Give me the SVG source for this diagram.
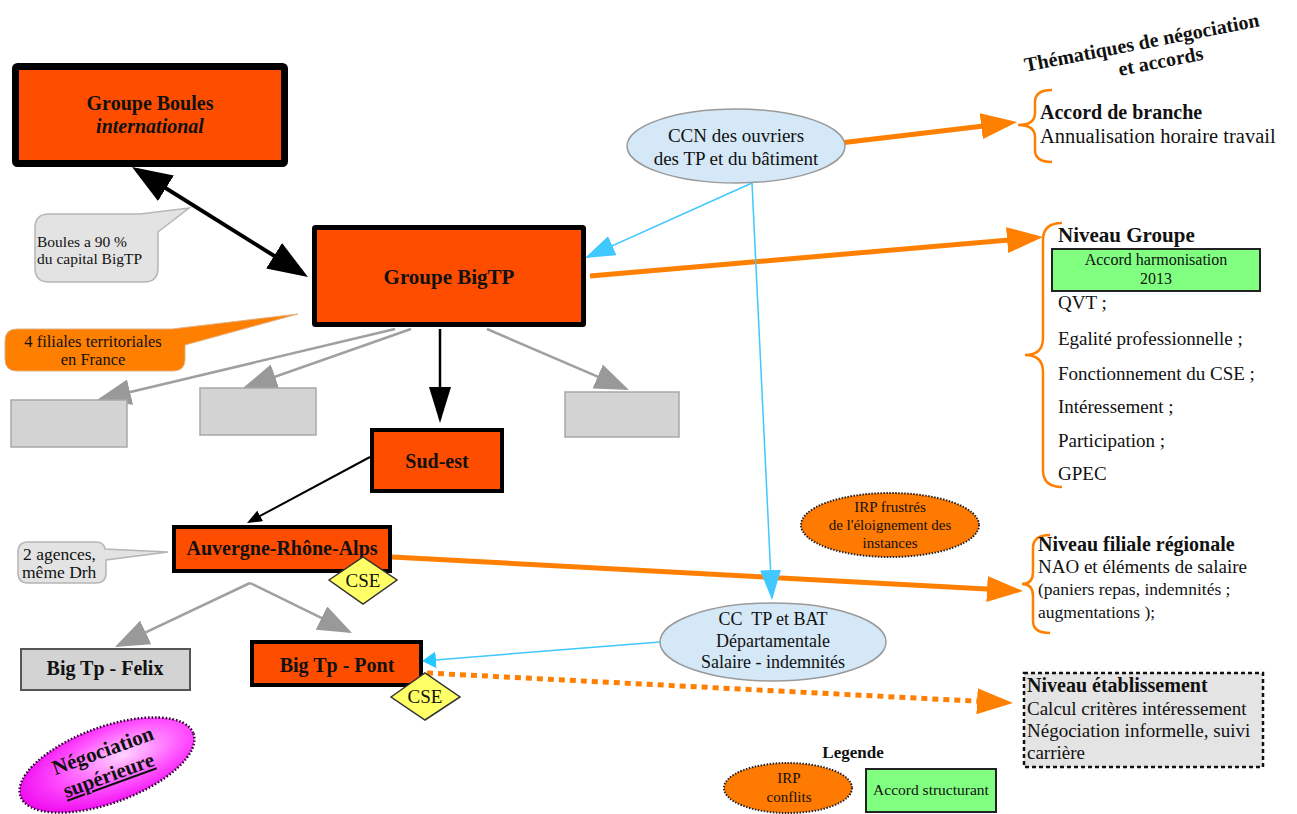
<svg xmlns="http://www.w3.org/2000/svg" width="1297" height="814" viewBox="0 0 1297 814">
<style>
text{font-family:"Liberation Serif","Times New Roman",serif;fill:#111}
.b{font-weight:bold}
.m{text-anchor:middle}
.box{fill:#FF4D00;stroke:#000}
.gray{fill:#D3D3D3;stroke:#A8A8A8;stroke-width:1.5}
.cse{fill:#FFFF66;stroke:#333;stroke-width:1.5}
.irp{fill:#FF7A00;stroke:#222;stroke-width:2;stroke-dasharray:1.5 1.5}
.conv{fill:#D4E8F7;stroke:#9A9A9A;stroke-width:1.5}
.green{fill:#80FF80;stroke:#222;stroke-width:2}
.brace{fill:none;stroke:#FF7F00;stroke-width:2.5}
.oline{fill:none;stroke:#FF7F00;stroke-width:5}
.cline{fill:none;stroke:#40C8FF;stroke-width:1.5}
.gline{fill:none;stroke:#A0A0A0;stroke-width:2.5}
.kline{fill:none;stroke:#000}
</style>
<defs>
<marker id="mO" viewBox="0 0 36 26" refX="28" refY="13" markerWidth="36" markerHeight="26" markerUnits="userSpaceOnUse" orient="auto"><path d="M0,0 L36,13 L0,26 z" fill="#FF7F00"/></marker>
<marker id="mK" viewBox="0 0 40 30" refX="34" refY="15" markerWidth="40" markerHeight="30" markerUnits="userSpaceOnUse" orient="auto-start-reverse"><path d="M0,0 L40,15 L0,30 z" fill="#000"/></marker>
<marker id="mKd" viewBox="0 0 36 22" refX="32" refY="11" markerWidth="36" markerHeight="22" markerUnits="userSpaceOnUse" orient="auto"><path d="M0,0 L36,11 L0,22 z" fill="#000"/></marker>
<marker id="mKs" viewBox="0 0 15 12" refX="12" refY="6" markerWidth="15" markerHeight="12" markerUnits="userSpaceOnUse" orient="auto"><path d="M0,0 L15,6 L0,12 z" fill="#000"/></marker>
<marker id="mG" viewBox="0 0 34 26" refX="31" refY="13" markerWidth="34" markerHeight="26" markerUnits="userSpaceOnUse" orient="auto"><path d="M0,0 L34,13 L0,26 z" fill="#999"/></marker>
<marker id="mC" viewBox="0 0 30 21" refX="28" refY="10.5" markerWidth="30" markerHeight="21" markerUnits="userSpaceOnUse" orient="auto"><path d="M0,0 L30,10.5 L0,21 z" fill="#40C8FF"/></marker>
<marker id="mCs" viewBox="0 0 14 17" refX="13" refY="8.5" markerWidth="14" markerHeight="17" markerUnits="userSpaceOnUse" orient="auto"><path d="M0,0 L14,8.5 L0,17 z" fill="#22C8FF"/></marker>
<radialGradient id="gNeg" cx="0.6" cy="0.45" r="0.65">
<stop offset="0" stop-color="#FFD4FF"/>
<stop offset="0.55" stop-color="#FF50FF"/>
<stop offset="1" stop-color="#EE00EE"/>
</radialGradient>
</defs>
<rect width="1297" height="814" fill="#fff"/>

<g id="connectors">
<line class="kline" stroke-width="4" x1="137.1" y1="170.2" x2="302.9" y2="273.8" marker-start="url(#mK)" marker-end="url(#mK)"/>
<line class="gline" x1="395" y1="329" x2="99.9" y2="399.3" marker-end="url(#mG)"/>
<line class="gline" x1="411" y1="329" x2="245.8" y2="387" marker-end="url(#mG)"/>
<line class="gline" x1="487" y1="329" x2="626.2" y2="388.8" marker-end="url(#mG)"/>
<line class="kline" stroke-width="2.5" x1="440" y1="329" x2="440" y2="419" marker-end="url(#mKd)"/>
<line class="kline" stroke-width="2" x1="370" y1="457" x2="249.6" y2="521.6" marker-end="url(#mKs)"/>
<line class="gline" x1="250" y1="583" x2="117.7" y2="645.7" marker-end="url(#mG)"/>
<line class="gline" x1="250" y1="583" x2="349.3" y2="631.7" marker-end="url(#mG)"/>
<line class="oline" x1="840" y1="143" x2="1009.1" y2="122.9" marker-end="url(#mO)"/>
<line class="oline" x1="590" y1="276" x2="1035" y2="237.7" marker-end="url(#mO)"/>
<line class="cline" x1="752" y1="183" x2="586.8" y2="257.2" marker-end="url(#mC)"/>
<line class="oline" x1="392" y1="557" x2="1015" y2="590.6" marker-end="url(#mO)"/>
<line class="cline" x1="752" y1="183" x2="771.9" y2="598" marker-end="url(#mC)"/>
<line class="cline" x1="660" y1="642" x2="423" y2="660.9" marker-end="url(#mCs)"/>
<line class="oline" stroke-width="3" stroke-dasharray="6 5" x1="427" y1="673" x2="1005" y2="702.6" marker-end="url(#mO)"/>
</g>

<g id="groupe-boules">
<rect class="box" x="15.5" y="66.5" width="269" height="97" stroke-width="7" rx="2"/>
<text class="b m" x="150" y="110" font-size="20">Groupe Boules</text>
<text class="b m" x="150" y="133" font-size="20" font-style="italic">international</text>
</g>

<g id="callout-boules">
<path d="M49,214 H140 L189,208 L158,232 V268 Q158,282 144,282 H49 Q35,282 35,268 V228 Q35,214 49,214 Z" fill="#E3E3E3" stroke="#B5B5B5" stroke-width="1.5"/>
<text x="37" y="247" font-size="15.5">Boules a 90 %</text>
<text x="37" y="264" font-size="15.5">du capital BigTP</text>
</g>

<g id="groupe-bigtp">
<rect class="box" x="314.5" y="227.5" width="269" height="97" stroke-width="5" rx="1"/>
<text class="b m" x="449" y="284" font-size="21">Groupe BigTP</text>
</g>

<g id="callout-filiales">
<path d="M17,329 H172 L298,314 L185,345 V359 Q185,371 173,371 H17 Q5,371 5,359 V341 Q5,329 17,329 Z" fill="#FF7F00" stroke="#E0B080" stroke-width="1"/>
<text class="m" x="93" y="347" font-size="16.5">4 filiales territoriales</text>
<text class="m" x="93" y="365" font-size="16.5">en France</text>
</g>

<g id="filiale-1"><rect class="gray" x="11" y="400" width="116" height="47"/></g>
<g id="filiale-2"><rect class="gray" x="200" y="388" width="116" height="47"/></g>
<g id="filiale-3"><rect class="gray" x="565" y="392" width="114" height="45"/></g>

<g id="sud-est">
<rect class="box" x="372" y="430" width="130" height="61" stroke-width="4"/>
<text class="b m" x="437" y="468" font-size="20">Sud-est</text>
</g>

<g id="ara">
<rect class="box" x="174" y="527" width="216" height="44" stroke-width="4"/>
<text class="b m" x="282" y="555" font-size="20">Auvergne-Rhône-Alps</text>
</g>

<g id="cse-ara">
<polygon class="cse" points="329,580 363,557 397,580 363,604"/>
<text class="m" x="363" y="587" font-size="19">CSE</text>
</g>

<g id="callout-agences">
<path d="M28,542 H96 Q104,542 105,549 L168,552 L106,560 V573 Q106,583 96,583 H28 Q18,583 18,573 V552 Q18,542 28,542 Z" fill="#E3E3E3" stroke="#B5B5B5" stroke-width="1.5"/>
<text x="23" y="560" font-size="17.5">2 agences,</text>
<text x="22" y="578" font-size="17.5">même Drh</text>
</g>

<g id="big-tp-felix">
<rect x="21" y="649" width="169" height="41" fill="#D3D3D3" stroke="#555" stroke-width="2"/>
<text class="b m" x="105" y="675" font-size="20">Big Tp - Felix</text>
</g>

<g id="big-tp-pont">
<rect class="box" x="252" y="642" width="169" height="43" stroke-width="4"/>
<text class="b m" x="337" y="672" font-size="20">Big Tp - Pont</text>
</g>

<g id="cse-pont">
<polygon class="cse" points="391,697 425,673 460,697 425,720"/>
<text class="m" x="425" y="703" font-size="19">CSE</text>
</g>

<g id="negociation-superieure" transform="rotate(-20 107 765)">
<ellipse cx="107" cy="765" rx="92" ry="38" fill="url(#gNeg)" stroke="#2A0030" stroke-width="2.5" stroke-dasharray="1.5 2"/>
<text class="b m" x="108" y="757" font-size="21">Négociation</text>
<text class="b m" x="105" y="782" font-size="21" text-decoration="underline">supérieure</text>
</g>

<g id="ccn">
<ellipse class="conv" cx="736" cy="146" rx="109" ry="37"/>
<text class="m" x="736" y="142" font-size="19">CCN des ouvriers</text>
<text class="m" x="736" y="165" font-size="19">des TP et du bâtiment</text>
</g>

<g id="cc-tp-bat">
<ellipse class="conv" cx="773" cy="642" rx="113" ry="39"/>
<text class="m" x="773" y="625" font-size="18" style="white-space:pre">CC  TP et BAT</text>
<text class="m" x="773" y="647" font-size="18">Départamentale</text>
<text class="m" x="773" y="668" font-size="18">Salaire - indemnités</text>
</g>

<g id="irp-frustres">
<ellipse class="irp" cx="890" cy="525" rx="89" ry="32"/>
<text class="m" x="890" y="512" font-size="15">IRP frustrés</text>
<text class="m" x="890" y="530" font-size="15">de l'éloignement des</text>
<text class="m" x="890" y="548" font-size="15">instances</text>
</g>

<g id="titre">
<g transform="rotate(-11 1143 49)">
<text class="b m" x="1143" y="49" font-size="20">Thématiques de négociation</text>
<text class="b m" x="1158" y="71" font-size="20">et accords</text>
</g>
</g>

<g id="accord-branche">
<path class="brace" d="M1052,90 Q1035,90 1035,102 V113 Q1035,125 1018,125 Q1035,125 1035,137 V150 Q1035,162 1052,162"/>
<text class="b" x="1040" y="119" font-size="20">Accord de branche</text>
<text x="1040" y="143" font-size="20.5">Annualisation horaire travail</text>
</g>

<g id="niveau-groupe">
<path class="brace" d="M1062,223 Q1043,223 1043,240 V338 Q1043,355 1025,355 Q1043,355 1043,372 V470 Q1043,487 1062,487"/>
<text class="b" x="1058" y="242" font-size="21">Niveau Groupe</text>
<rect class="green" x="1052" y="249" width="208" height="42"/>
<text class="m" x="1156" y="265" font-size="16">Accord harmonisation</text>
<text class="m" x="1156" y="284" font-size="16">2013</text>
<text x="1058" y="309" font-size="19">QVT ;</text>
<text x="1058" y="345" font-size="19">Egalité professionnelle ;</text>
<text x="1058" y="380" font-size="19">Fonctionnement du CSE ;</text>
<text x="1058" y="413" font-size="19">Intéressement ;</text>
<text x="1058" y="447" font-size="19">Participation ;</text>
<text x="1058" y="480" font-size="19">GPEC</text>
</g>

<g id="niveau-filiale">
<path class="brace" d="M1050,535 Q1033,535 1033,548 V572 Q1033,584 1022,584 Q1033,584 1033,596 V621 Q1033,633 1050,633"/>
<text class="b" x="1038" y="551" font-size="20">Niveau filiale régionale</text>
<text x="1038" y="573" font-size="19">NAO et éléments de salaire</text>
<text x="1038" y="595" font-size="17.5">(paniers repas, indemnités ;</text>
<text x="1038" y="618" font-size="17.5">augmentations );</text>
</g>

<g id="niveau-etablissement">
<rect x="1024" y="673" width="239" height="94" fill="#E4E4E4" stroke="#111" stroke-width="2.5" stroke-dasharray="4 3"/>
<text class="b" x="1027" y="692" font-size="20">Niveau établissement</text>
<text x="1027" y="715" font-size="19">Calcul critères intéressement</text>
<text x="1027" y="737" font-size="19">Négociation informelle, suivi</text>
<text x="1027" y="759" font-size="19">carrière</text>
</g>

<g id="legende">
<text class="b m" x="853" y="758" font-size="17">Legende</text>
<g id="legende-irp">
<ellipse class="irp" cx="788" cy="788" rx="64" ry="25"/>
<text class="m" x="789" y="783" font-size="15">IRP</text>
<text class="m" x="789" y="802" font-size="15">conflits</text>
</g>
<g id="legende-accord">
<rect class="green" x="866" y="769" width="130" height="43"/>
<text class="m" x="931" y="795" font-size="15.5">Accord structurant</text>
</g>
</g>
</svg>
